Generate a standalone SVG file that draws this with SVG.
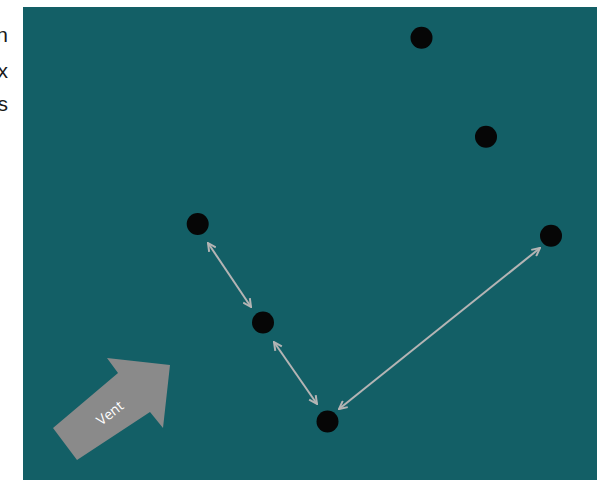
<svg xmlns="http://www.w3.org/2000/svg" width="599" height="480" viewBox="0 0 599 480">
<style>
.side{font-family:"Liberation Sans",Arial,sans-serif;font-size:21px;fill:#1a1a1a}
.dot{fill:#060606}
.conn{stroke:#b4b4b4;stroke-width:2;fill:none;marker-start:url(#ah);marker-end:url(#ah)}
.vent{fill:#8a8a8a}
.vtxt{font-family:"Open Sans","Liberation Sans",Arial,sans-serif;font-size:14px;fill:#ffffff}
</style>
<defs>
<marker id="ah" viewBox="0 0 10 10" refX="9" refY="5" markerWidth="5" markerHeight="5" orient="auto-start-reverse" markerUnits="strokeWidth">
<path d="M1,1 L9,5 L1,9" fill="none" stroke="#b4b4b4" stroke-width="2"/>
</marker>
</defs>
<rect x="0" y="0" width="599" height="480" fill="#ffffff"/>
<text class="side" x="8" y="42" text-anchor="end">n</text>
<text class="side" x="8" y="78" text-anchor="end">x</text>
<text class="side" x="8" y="111" text-anchor="end">s</text>
<rect x="23" y="7" width="574" height="473" fill="#135f66"/>
<g id="vent">
<polygon class="vent" points="53,428 118,373 107,358 170,365 163,428 150,412 77,460"/>
<text class="vtxt" x="110" y="418" text-anchor="middle" transform="rotate(-38 110 413)">Vent</text>
</g>
<g id="connectors">
<line class="conn" x1="208" y1="243" x2="251" y2="307"/>
<line class="conn" x1="274" y1="342" x2="317" y2="404"/>
<line class="conn" x1="540" y1="248" x2="339" y2="409"/>
</g>
<g id="n1"><circle class="dot" cx="421.5" cy="37.7" r="11"/></g>
<g id="n2"><circle class="dot" cx="486" cy="136.7" r="11"/></g>
<g id="n3"><circle class="dot" cx="197.7" cy="224" r="11"/></g>
<g id="n4"><circle class="dot" cx="551" cy="235.7" r="11"/></g>
<g id="n5"><circle class="dot" cx="263" cy="322.5" r="11"/></g>
<g id="n6"><circle class="dot" cx="327.5" cy="421.5" r="11"/></g>
</svg>
